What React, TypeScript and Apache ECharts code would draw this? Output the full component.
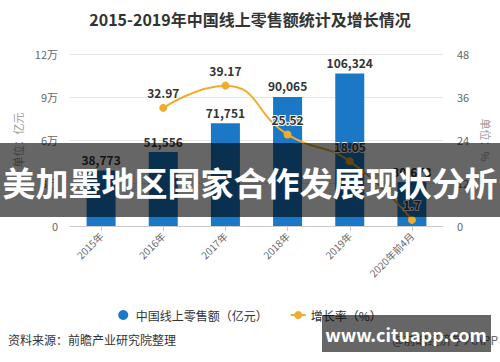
import React, { useEffect, useRef } from "react";
import * as echarts from "echarts";

const categories = ["2015年", "2016年", "2017年", "2018年", "2019年", "2020年前4月"];
const retailValues = [38773, 51556, 71751, 90065, 106324, 30673];
const growthValues: (number | string)[] = ["-", 32.97, 39.17, 25.52, 18.05, 1.7];
const leftTicks = [0, 30000, 60000, 90000, 120000];
const rightTicks = [0, 12, 24, 36, 48];

const FONT = "'Noto Sans CJK SC', 'Noto Sans', sans-serif";
const BAR_NAME = "中国线上零售额（亿元）";
const LINE_NAME = "增长率（%）";

export default function App() {
  const ref = useRef<HTMLDivElement>(null);
  useEffect(() => {
    document.body.style.margin = "0";
    if (!ref.current) return;
    const chart = echarts.init(ref.current, null, { renderer: "svg" });
    chart.setOption({
      animation: false,
      backgroundColor: "#ffffff",
      textStyle: { fontFamily: FONT },
      title: {
        text: "2015-2019年中国线上零售额统计及增长情况",
        left: "center",
        top: 6,
        textStyle: { fontSize: 16, fontWeight: "bold", color: "#333", fontFamily: FONT },
      },
      legend: {
        top: 304,
        left: "center",
        itemGap: 22,
        itemWidth: 15,
        itemHeight: 10,
        textStyle: { fontSize: 12, color: "#333", fontFamily: FONT },
        data: [{ name: BAR_NAME, icon: "circle" }, { name: LINE_NAME }],
      },
      grid: { left: 70, right: 57, top: 54, bottom: 136 },
      xAxis: {
        type: "category",
        data: categories,
        axisLine: { lineStyle: { color: "#ccc" } },
        axisTick: { show: true, alignWithLabel: true, lineStyle: { color: "#ccc" } },
        axisLabel: { rotate: 45, fontSize: 10, color: "#666", margin: 8, fontFamily: FONT },
      },
      yAxis: [
        {
          type: "value",
          min: leftTicks[0],
          max: leftTicks[leftTicks.length - 1],
          interval: leftTicks[1] - leftTicks[0],
          name: "单位：亿元",
          nameLocation: "middle",
          nameGap: 42,
          nameRotate: 90,
          nameTextStyle: { fontSize: 11, color: "#999", fontFamily: FONT },
          axisLine: { show: false },
          axisTick: { show: false },
          axisLabel: {
            fontSize: 11,
            color: "#666",
            margin: 12,
            formatter: (v: number) => (v === 0 ? "0" : v / 10000 + "万"),
          },
          splitLine: { lineStyle: { color: "#e6e6e6" } },
        },
        {
          type: "value",
          min: rightTicks[0],
          max: rightTicks[rightTicks.length - 1],
          interval: rightTicks[1] - rightTicks[0],
          name: "单位：%",
          nameLocation: "middle",
          nameGap: 36,
          nameRotate: -90,
          nameTextStyle: { fontSize: 11, color: "#999", fontFamily: FONT },
          axisLine: { show: false },
          axisTick: { show: false },
          axisLabel: { fontSize: 11, color: "#666", margin: 14 },
          splitLine: { show: false },
        },
      ],
      series: [
        {
          name: BAR_NAME,
          type: "bar",
          data: retailValues,
          barWidth: 29,
          itemStyle: { color: "#1b78c6" },
          label: {
            show: true,
            position: "top",
            fontSize: 12,
            fontWeight: "bold",
            color: "#333",
            fontFamily: FONT,
            formatter: (p: any) => Number(p.value).toLocaleString("en-US"),
          },
        },
        {
          name: LINE_NAME,
          type: "line",
          yAxisIndex: 1,
          data: growthValues,
          smooth: true,
          symbol: "circle",
          symbolSize: 8,
          lineStyle: { color: "#f0ad2d", width: 2 },
          itemStyle: { color: "#f0ad2d" },
          label: {
            show: true,
            position: "top",
            fontSize: 12,
            fontWeight: "bold",
            color: "#333",
            textBorderColor: "#fff",
            textBorderWidth: 2,
            fontFamily: FONT,
          },
          z: 5,
        },
      ],
      graphic: [
        {
          type: "text",
          left: 8,
          top: 333,
          style: { text: "资料来源：前瞻产业研究院整理", fill: "#333", font: `12px ${FONT}` },
        },
        {
          type: "text",
          right: 2,
          top: 333,
          style: { text: "@前瞻经济学人APP", fill: "#666", font: `12px ${FONT}` },
        },
        {
          type: "rect",
          shape: { x: 0, y: 143, width: 500, height: 74 },
          style: { fill: "rgba(0,0,0,0.6)" },
          z: 100,
        },
        {
          type: "text",
          x: 250,
          y: 182,
          style: {
            text: "美加墨地区国家合作发展现状分析",
            fill: "#fff",
            font: `bold 33px ${FONT}`,
            align: "center",
            verticalAlign: "middle",
          },
          z: 101,
        },
        {
          type: "rect",
          shape: { x: 322, y: 315, width: 169, height: 37 },
          style: { fill: "rgba(0,0,0,0.6)" },
          z: 100,
        },
        {
          type: "text",
          x: 406,
          y: 334,
          style: {
            text: "www.cituapp.com",
            fill: "#fff",
            font: `bold 18px ${FONT}`,
            align: "center",
            verticalAlign: "middle",
          },
          z: 101,
        },
      ],
    });
    return () => chart.dispose();
  }, []);
  return <div ref={ref} style={{ width: 500, height: 362 }} />;
}
